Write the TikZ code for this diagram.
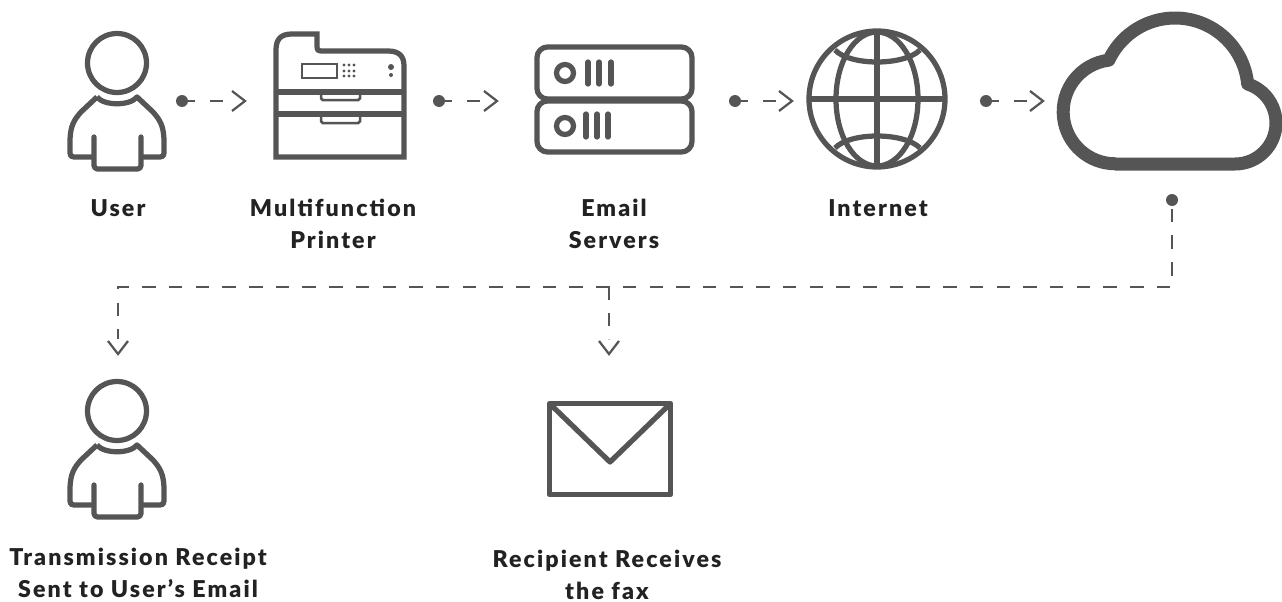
\documentclass[tikz,border=0pt]{standalone}
\usepackage{fontspec}
\setmainfont{Lato}[BoldFont={Lato Black}]
\definecolor{icongray}{HTML}{555555}
\definecolor{textgray}{HTML}{222222}
\tikzset{
  icon/.style={draw=icongray, line width=0.105cm, line join=round},
  thinicon/.style={draw=icongray, line width=0.05cm},
  dot/.style={circle, fill=icongray, inner sep=0pt, minimum size=0.24cm},
  flow/.style={draw=icongray, line width=0.052cm, dash pattern=on 0.26cm off 0.30cm, shorten >=0.26cm},
  barb/.style={draw=icongray, line width=0.045cm},
  caption/.style={text=textgray, align=center, font=\fontsize{13.2pt}{18.2pt}\selectfont\bfseries\addfontfeature{LetterSpace=9}},
}
\begin{document}
\begin{tikzpicture}[x=0.02cm, y=-0.02cm]
    \useasboundingbox (0,0) rectangle (1282,602);

    % --- users ---
    \foreach \dy in {0,348} {
    \begin{scope}[shift={(0,\dy)}]
        \draw[icon] (117,63) circle (29.5);
        \draw[icon] (97,97) .. controls (104,106) and (130,106) .. (137,97)
            -- (153,112) .. controls (160,120) and (164,126) .. (164,142)
            -- (164,153) .. controls (164,156) and (163,157) .. (160,157) -- (141,157);
        \draw[icon] (97,97) -- (81,112) .. controls (74,120) and (70,126) .. (70,142)
            -- (70,153) .. controls (70,156) and (71,157) .. (74,157) -- (94,157);
        \draw[icon, line cap=round, rounded corners=2pt] (94,137) -- (94,169) -- (141,169) -- (141,137);
    \end{scope}
    }

    % --- printer ---
    \draw[icon, line join=miter] (276,157) -- (276,50) .. controls (276,39) and (281,34) .. (292,34)
        -- (317,34) -- (317,46) .. controls (317,50) and (318,51) .. (322,51)
        -- (388,51) .. controls (399,51) and (404,56) .. (404,66) -- (404,157) -- cycle;
    \draw[icon] (276,92) -- (404,92);
    \draw[icon] (276,114) -- (404,114);
    \draw[thinicon, rounded corners=1pt] (321,92) -- (321,100) -- (360,100) -- (360,92);
    \draw[thinicon, rounded corners=1pt] (321,114) -- (321,123) -- (360,123) -- (360,114);
    \draw[thinicon] (302,64) rectangle (337,78);
    \foreach \x in {344,349,354} \foreach \y in {65,71,76} \fill[icongray] (\x,\y) circle (1.7);
    \fill[icongray] (391,67) circle (3);
    \fill[icongray] (391,75) circle (2);

    % --- servers ---
    \draw[icon, rounded corners=6pt] (537,47) rectangle (692,99);
    \draw[icon, rounded corners=6pt] (537,101) rectangle (692,152);
    \draw[icon] (565,73) circle (8.5);
    \draw[icon] (565,126) circle (8.5);
    \foreach \x in {588,599,611} \draw[icon, line cap=round] (\x,62) -- (\x,84);
    \foreach \x in {586,597,608} \draw[icon, line cap=round] (\x,114) -- (\x,137);

    % --- globe ---
    \draw[icon] (877,99) circle (68);
    \draw[icon] (877,99) ellipse (41 and 67);
    \draw[icon] (877,31) -- (877,167);
    \draw[icon] (809,99) -- (945,99);
    \draw[icon] (835,50) .. controls (850,66) and (904,66) .. (920,50);
    \draw[icon] (835,148) .. controls (850,132) and (904,132) .. (920,148);

    % --- cloud ---
    \draw[draw=icongray, line width=0.26cm, line join=round] (1115,164) -- (1235,164)
        arc[start angle=90, end angle=-72, radius=41]
        arc[start angle=-5.5, end angle=-155, radius=73]
        arc[start angle=-97, end angle=-270, radius=52] -- cycle;

    % --- envelope ---
    \draw[icon] (549.5,403.5) rectangle (670.5,494.5);
    \draw[icon] (549.5,403.5) -- (610,462) -- (670.5,403.5);

    % --- connectors ---
    \node[dot] (userdot) at (182,101) {};
    \node[dot] (printerdot) at (439,101) {};
    \node[dot] (serverdot) at (735,101) {};
    \node[dot] (webdot) at (986,101) {};
    \node[dot] (clouddot) at (1172,200) {};
    \coordinate (printertip) at (245,101);
    \coordinate (servertip) at (497,101);
    \coordinate (webtip) at (792,101);
    \coordinate (cloudtip) at (1043,101);
    \coordinate (corner) at (1172,287);
    \coordinate (branch) at (609,287);
    \coordinate (usertip) at (118,354);
    \coordinate (mailtip) at (609,354);

    \draw[flow] (userdot.center) -- (printertip);
    \draw[flow] (printerdot.center) -- (servertip);
    \draw[flow] (serverdot.center) -- (webtip);
    \draw[flow] (webdot.center) -- (cloudtip);
    \draw[flow, dash pattern=on 0.27cm off 0.264cm, dash phase=0.36cm, shorten >=0.30cm] (clouddot.center) -- (corner) -- (118,287) -- (usertip);
    \draw[flow, dash pattern=on 0.26cm off 0.26cm, shorten >=0.30cm] (branch) -- (mailtip);

    \foreach \t in {printertip,servertip,webtip,cloudtip}
        \draw[barb] (\t) ++(-13,-10) -- (\t) -- ++(-13,10);
    \foreach \t in {usertip,mailtip}
        \draw[barb] (\t) ++(-10,-13) -- (\t) -- ++(10,-13);

    % --- captions ---
    \node[caption] (usertext) at (118,208) {User};
    \node[caption] (printertext) at (333,224) {Multifunction\\Printer};
    \node[caption] (servertext) at (614,224) {Email\\Servers};
    \node[caption] (webtext) at (878,208) {Internet};
    \node[caption] (receipttext) at (138,573) {Transmission Receipt\\Sent to User’s Email};
    \node[caption] (faxtext) at (607,575) {Recipient Receives\\the fax};
\end{tikzpicture}
\end{document}
